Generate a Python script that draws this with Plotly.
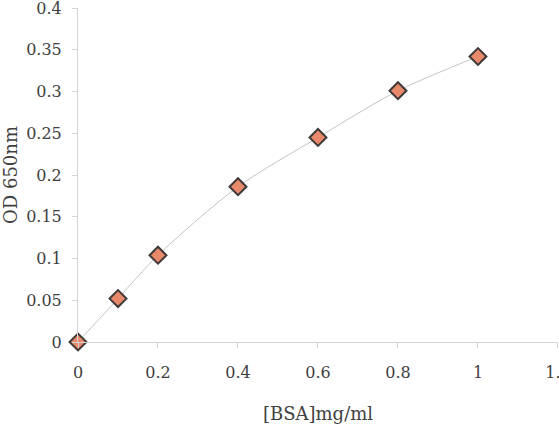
import plotly.graph_objects as go

bsa = [0, 0.1, 0.2, 0.4, 0.6, 0.8, 1.0]
od650 = [0, 0.052, 0.104, 0.186, 0.245, 0.301, 0.342]

x_ticks = [0, 0.2, 0.4, 0.6, 0.8, 1, 1.2]
x_tick_text = ["0", "0.2", "0.4", "0.6", "0.8", "1", "1.2"]
y_ticks = [0, 0.05, 0.1, 0.15, 0.2, 0.25, 0.3, 0.35, 0.4]
y_tick_text = ["0", "0.05", "0.1", "0.15", "0.2", "0.25", "0.3", "0.35", "0.4"]

fig = go.Figure()
fig.add_trace(go.Scatter(
    x=bsa, y=od650, mode="lines+markers",
    line=dict(color="#c4c4c4", width=1, shape="spline", smoothing=0.8),
    marker=dict(symbol="diamond", size=13, color="#e8896b",
                line=dict(color="#3f3a38", width=2)),
    cliponaxis=False,
    showlegend=False,
))

font = "DejaVu Serif"
fig.update_layout(
    width=559, height=424,
    margin=dict(l=78, r=1, t=8, b=82, autoexpand=False),
    paper_bgcolor="white", plot_bgcolor="white",
    font=dict(family=font, size=16, color="#404040"),
    xaxis=dict(
        range=[0, 1.2001], tickvals=x_ticks, ticktext=x_tick_text,
        showgrid=False, zeroline=False, showline=True,
        linecolor="#d4d4d4", linewidth=1,
        ticks="outside", ticklen=5, tickcolor="#d4d4d4",
        ticklabelstandoff=11, ticklabeloverflow="allow", automargin=False,
        tickfont=dict(family=font, size=16),
        title=dict(text="[BSA]mg/ml", standoff=26, font=dict(family=font, size=18)),
    ),
    yaxis=dict(
        range=[0, 0.4001], tickvals=y_ticks, ticktext=y_tick_text,
        showgrid=False, zeroline=False, showline=True,
        linecolor="#d4d4d4", linewidth=1,
        ticks="outside", ticklen=5, tickcolor="#d4d4d4",
        ticklabelstandoff=7, ticklabeloverflow="allow", automargin=False,
        tickfont=dict(family=font, size=16),
        title=dict(text="OD 650nm", standoff=3, font=dict(family=font, size=18)),
    ),
)

fig.write_html("out.html")
